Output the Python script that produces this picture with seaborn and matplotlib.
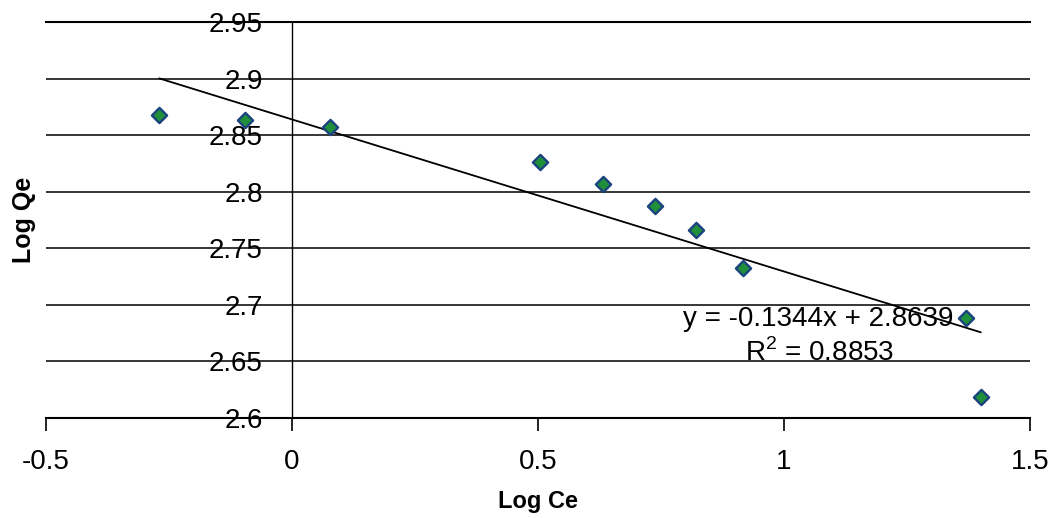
import matplotlib
matplotlib.use("Agg")
import matplotlib.pyplot as plt
import seaborn as sns
import numpy as np
import pandas as pd

# Data
log_ce = [-0.270, -0.096, 0.077, 0.504, 0.632, 0.738, 0.821, 0.917, 1.370, 1.400]
log_qe = [2.868, 2.863, 2.857, 2.826, 2.807, 2.787, 2.766, 2.733, 2.688, 2.619]
slope = -0.1344
intercept = 2.8639
eq_text = "y = -0.1344x + 2.8639"
r2_text = "R$^2$ = 0.8853"
x_ticks = [-0.5, 0, 0.5, 1, 1.5]
x_ticklabels = ["-0.5", "0", "0.5", "1", "1.5"]
y_ticks = [2.6, 2.65, 2.7, 2.75, 2.8, 2.85, 2.9, 2.95]
y_ticklabels = ["2.6", "2.65", "2.7", "2.75", "2.8", "2.85", "2.9", "2.95"]

sns.set_theme(style="white")
plt.rcParams['font.family'] = ['Liberation Sans', 'DejaVu Sans']
plt.rcParams['mathtext.fontset'] = 'custom'
plt.rcParams['mathtext.rm'] = 'Liberation Sans'

df = pd.DataFrame({"Log Ce": log_ce, "Log Qe": log_qe})
xfit = np.array([min(log_ce), max(log_ce)])
fit = pd.DataFrame({"x": xfit, "y": slope * xfit + intercept})

fig = plt.figure(figsize=(10.52, 5.18), dpi=100)
ax = fig.add_axes([46 / 1052, 1 - 418 / 518, 984 / 1052, 396 / 518])

ax.set_xlim(-0.5, 1.5)
ax.set_ylim(2.6, 2.95)

ax.set_yticks(y_ticks)
ax.set_yticklabels(y_ticklabels)
ax.set_xticks(x_ticks)
ax.set_xticklabels(x_ticklabels)
ax.yaxis.grid(True, color='black', linewidth=1.1)
ax.xaxis.grid(False)
ax.set_axisbelow(True)

sns.lineplot(data=fit, x="x", y="y", ax=ax, color='black', linewidth=1.3, zorder=3)
sns.scatterplot(data=df, x="Log Ce", y="Log Qe", ax=ax, marker='D', s=60,
                color='#1f8f3a', edgecolor='#1a437f', linewidth=1.7, zorder=4)

ax.spines['right'].set_visible(False)
ax.spines['top'].set_visible(True)
ax.spines['top'].set_linewidth(1.5)
ax.spines['top'].set_color('black')
ax.spines['left'].set_position(('data', 0))
ax.spines['left'].set_linewidth(1.0)
ax.spines['left'].set_color('black')
ax.spines['bottom'].set_linewidth(1.5)
ax.spines['bottom'].set_color('black')

ax.tick_params(axis='x', direction='out', length=9, width=1.2, colors='black',
               labelsize=20, pad=13, bottom=True)
ax.tick_params(axis='y', length=0, labelsize=20, pad=21, colors='black')

ax.set_xlabel("Log Ce", fontsize=17, fontweight='bold', color='black')
ax.set_ylabel("Log Qe", fontsize=18, fontweight='bold', color='black')
ax.xaxis.label.set_va('center')
ax.xaxis.set_label_coords(0.5, -0.212)
ax.yaxis.label.set_va('center')
ax.yaxis.set_label_coords(-0.0224, 0.5)

ax.text(1.069, 2.6875, eq_text, fontsize=20, ha='center', va='center', color='black', zorder=5)
ax.text(1.073, 2.6575, r2_text, fontsize=20, ha='center', va='center', color='black', zorder=5)

fig.savefig("out.png", dpi=100)
